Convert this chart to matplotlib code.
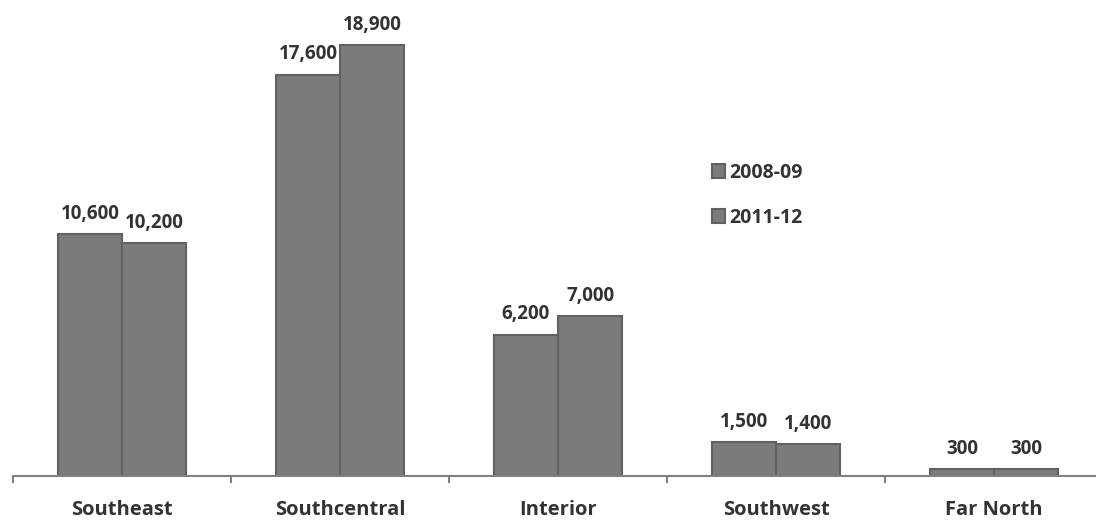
import matplotlib.pyplot as plt
import numpy as np

regions = ["Southeast", "Southcentral", "Interior", "Southwest", "Far North"]
series_names = ["2008-09", "2011-12"]
values_0809 = [10600, 17600, 6200, 1500, 300]
values_1112 = [10200, 18900, 7000, 1400, 300]

W, H = 1096, 525
fig = plt.figure(figsize=(W / 100, H / 100), dpi=100)
ax = fig.add_axes([13 / W, (H - 476) / H, 1090 / W, 476 / H])

font = "Open Sans"
bar_color = "#7b7b7b"
edge_color = "#616161"
text_color = "#333333"

x = np.arange(len(regions))
bw = 0.295
bars_a = ax.bar(x - bw / 2, values_0809, bw, color=bar_color, edgecolor=edge_color,
                linewidth=1.5, label=series_names[0])
bars_b = ax.bar(x + bw / 2, values_1112, bw, color=bar_color, edgecolor=edge_color,
                linewidth=1.5, label=series_names[1])

for bars, vals in ((bars_a, values_0809), (bars_b, values_1112)):
    for b, v in zip(bars, vals):
        ax.annotate(f"{v:,}", (b.get_x() + b.get_width() / 2, v),
                    xytext=(0, 11), textcoords="offset points",
                    ha="center", va="baseline", fontsize=13.5, fontweight="bold",
                    family=font, color=text_color)

ax.set_xlim(-0.5, len(regions) - 0.5)
ax.set_ylim(0, 20880)

for s in ("top", "right", "left"):
    ax.spines[s].set_visible(False)
ax.spines["bottom"].set_color("#808080")
ax.spines["bottom"].set_linewidth(1.5)
ax.set_yticks([])

ax.set_xticks(x)
ax.set_xticklabels(regions, fontsize=14.5, fontweight="bold", family=font, color=text_color)
ax.tick_params(axis="x", which="major", length=0, pad=17)
ax.set_xticks(np.arange(-0.5, len(regions), 1.0), minor=True)
ax.tick_params(axis="x", which="minor", length=5, width=1.5, color="#808080")

leg = fig.legend(handles=[bars_a, bars_b], labels=series_names,
                 loc="upper left", bbox_to_anchor=(694 / W, 1 - 145 / H),
                 frameon=False, handlelength=0.7, handleheight=0.75,
                 handletextpad=0.2, labelspacing=1.3,
                 prop={"family": font, "weight": "bold", "size": 14})
for t in leg.get_texts():
    t.set_color(text_color)

fig.savefig("out.png", dpi=100, facecolor="white")
